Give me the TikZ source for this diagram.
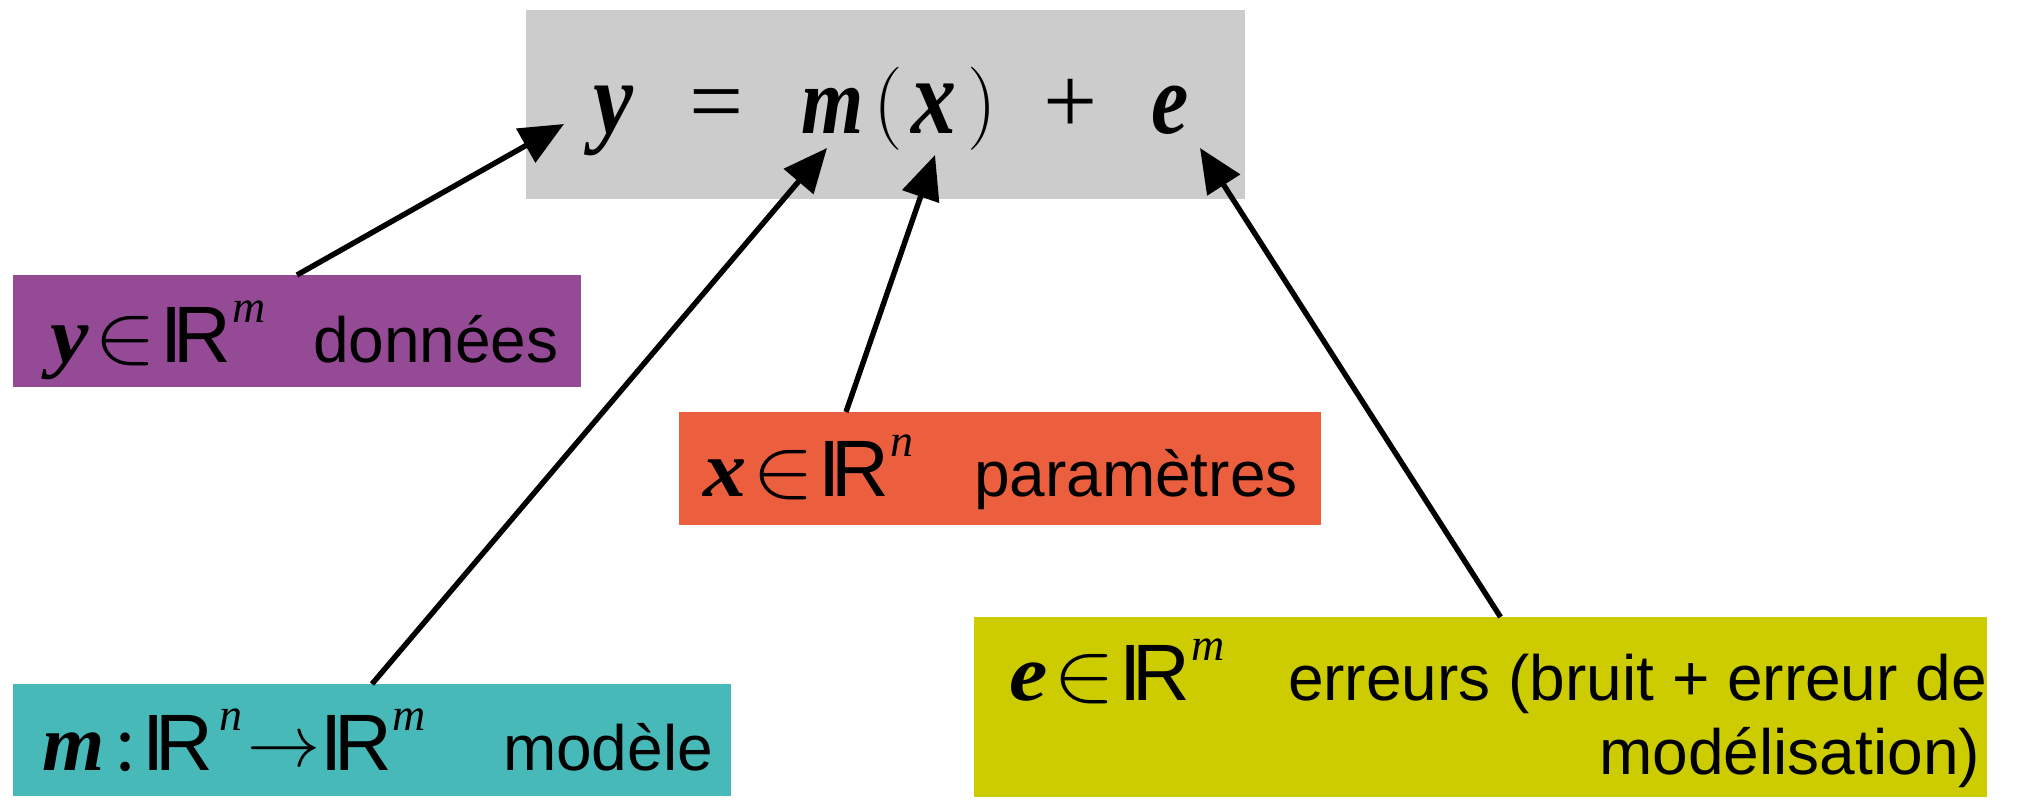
\documentclass[tikz,border=0pt]{standalone}
\usepackage{fontspec}
\setmainfont{Liberation Sans}
\newfontfamily\tms{Liberation Serif}
\usetikzlibrary{arrows.meta,calc}
\definecolor{cgray}{HTML}{CCCCCC}
\definecolor{cpurple}{HTML}{954A96}
\definecolor{corange}{HTML}{EB5F3F}
\definecolor{cteal}{HTML}{47B9B8}
\definecolor{cyellow}{HTML}{CCCC00}
% bold italic serif letter at given size
\newcommand\bvs[2]{{\fontsize{#1}{#1}\selectfont\tms\bfseries\itshape #2}}
\newcommand\elt{\resizebox{31pt}{23pt}{$\in$}}
\newcommand\arr{\raisebox{2pt}{\resizebox{36.5pt}{!}{$\rightarrow$}}}
\newcommand\lpar{\raisebox{2pt}{\resizebox*{!}{41.5pt}{$\Bigg($}}}
\newcommand\rpar{\raisebox{2pt}{\resizebox*{!}{41.5pt}{$\Bigg)$}}}
\newcommand\RR{{\fontsize{40pt}{40pt}\selectfont I\kern-0.11em R}}
\newcommand\sups[1]{\raisebox{20pt}{\fontsize{23pt}{23pt}\selectfont\tms\itshape #1}}
\newcommand\memb[2]{\scalebox{1.08}[1]{\bvs{40pt}{#1}}\hspace{3pt}\elt\hspace{2pt}\RR\hspace{0.5pt}\sups{#2}}
\newcommand\at[2]{\makebox[0pt][l]{\hspace{#1}#2}}
\begin{document}
\begin{tikzpicture}[x=0.5pt,y=-0.5pt,
  box/.style={draw=none,inner sep=0pt,outer sep=0pt,anchor=north west},
  lbl/.style={inner sep=0pt,outer sep=0pt,font=\fontsize{32pt}{38pt}\selectfont},
  conn/.style={line width=2.7pt,-{Triangle[length=22pt,width=19pt]}}]
\useasboundingbox (0,0) rectangle (2023,800);
% boxes
\node[box,fill=cgray,minimum width=359.5pt,minimum height=94.5pt] (eq) at (526,10) {};
\node[box,fill=cpurple,minimum width=284pt,minimum height=56pt] (data) at (13,275) {};
\node[box,fill=corange,minimum width=321pt,minimum height=56.5pt] (param) at (679,412) {};
\node[box,fill=cteal,minimum width=359pt,minimum height=56pt] (model) at (13,684) {};
\node[box,fill=cyellow,minimum width=506.5pt,minimum height=90pt] (err) at (974,617) {};
% equation
\node[lbl,anchor=base west] (eqtxt) at (590,133) {%
  \at{1pt}{\scalebox{1}[1.15]{\bvs{45pt}{y}}}%
  \at{49pt}{\fontsize{48pt}{48pt}\selectfont\tms =}%
  \at{105pt}{\scalebox{1}[1.2]{\bvs{40pt}{m}}}%
  \at{141pt}{\lpar}%
  \at{160pt}{\scalebox{1}[1.2]{\bvs{45pt}{x}}}%
  \at{188pt}{\rpar}%
  \at{226pt}{\fontsize{48pt}{48pt}\selectfont\tms +}%
  \at{280pt}{\scalebox{1}[1.2]{\bvs{42pt}{e}}}};
% labels
\node[lbl,anchor=base west] (ydef) at (50,362) {\memb{y}{m}};
\node[lbl,anchor=base west] (ytxt) at (313,362) {données};
\node[lbl,anchor=base west] (xdef) at (703,496) {\memb{x}{n}};
\node[lbl,anchor=base west] (xtxt) at (974,496) {paramètres};
\node[lbl,anchor=base west] (mdef) at (42,770) {\bvs{40pt}{m}\hspace{5pt}{\fontsize{40pt}{40pt}\selectfont\tms :}\hspace{3pt}\RR\hspace{3pt}\sups{n}\hspace{2.5pt}\arr\RR\hspace{0.5pt}\sups{m}};
\node[lbl,anchor=base west] (mtxt) at (503,770) {modèle};
\node[lbl,anchor=base west] (edef) at (1009,700) {\memb{e}{m}};
\node[lbl,anchor=base west] (etxt1) at (1288,700) {erreurs (bruit + erreur de};
\node[lbl,anchor=base east] (etxt2) at (1980,774) {modélisation)};
% arrow ends
\coordinate (ty) at (564,124);
\coordinate (tm) at (827,148);
\coordinate (tx) at (935,155);
\coordinate (te) at (1200,148);
\coordinate (sx) at ($(param.north west)+(167,0)$);
\coordinate (se) at ($(err.north)+(20,0)$);
% connectors
\draw[conn] (data.north) -- (ty);
\draw[conn] (model.north) -- (tm);
\draw[conn] (sx) -- (tx);
\draw[conn] (se) -- (te);
\end{tikzpicture}
\end{document}
